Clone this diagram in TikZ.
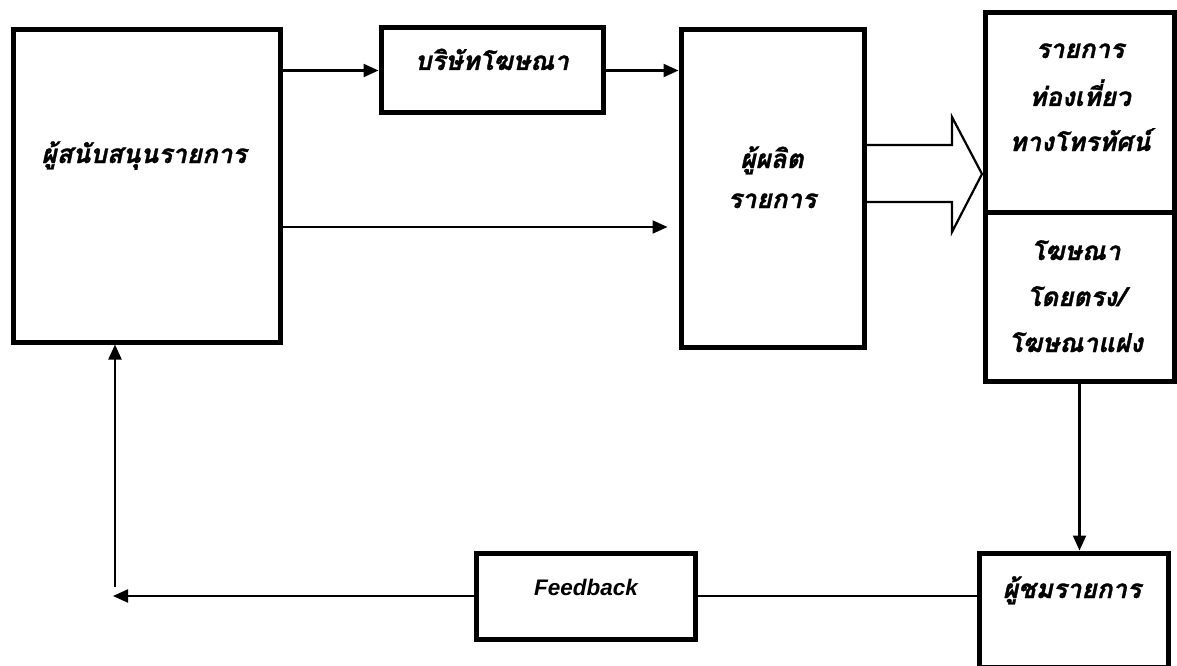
\documentclass[tikz,border=0pt]{standalone}
\usepackage{fontspec}
\setmainfont{Liberation Sans}
\newfontfamily\thaifont[Script=Thai, BoldItalicFeatures={FakeBold=1.2}]{Loma}
\usetikzlibrary{arrows.meta}
\begin{document}
\begin{tikzpicture}[x=1pt,y=-1pt,
  box/.style={draw, line width=5pt, inner sep=0pt},
  th/.style={font=\thaifont\bfseries\itshape\fontsize{26}{30}\selectfont, anchor=base, inner sep=0pt},
  en/.style={font=\bfseries\itshape\fontsize{22.5}{26}\selectfont, inner sep=0pt},
  conn/.style={line width=2.2pt, -{Triangle[length=15pt,width=13pt]}},
  plain/.style={line width=2.2pt},
  hollow/.style={line width=2.2pt, line join=miter}
]
\useasboundingbox (0,0) rectangle (1177,666);
\clip (0,0) rectangle (1177,666);
% boxes
\node[box, minimum width=267pt, minimum height=312pt] (A) at (147,186) {};
\node[box, minimum width=222pt, minimum height=85pt] (B) at (492,70.5) {};
\node[box, minimum width=183pt, minimum height=317pt] (C) at (772.5,188.5) {};
\node[box, minimum width=189pt, minimum height=199.5pt] (D) at (1079.5,112.25) {};
\node[box, minimum width=189pt, minimum height=169pt] (E) at (1079.5,296.5) {};
\node[box, minimum width=219pt, minimum height=86pt] (Fb) at (585.5,596) {};
\node[box, minimum width=189pt, minimum height=114pt] (F) at (1073.5,610) {};
% texts
\node[th] (tA) at (144,163) {ผู้สนับสนุนรายการ};
\node[th] (tB) at (492,70) {บริษัทโฆษณา};
\node[th] (tC1) at (772,168) {ผู้ผลิต};
\node[th] (tC2) at (772,208) {รายการ};
\node[th] (tD1) at (1080,58) {รายการ};
\node[th] (tD2) at (1080,106) {ท่องเที่ยว};
\node[th] (tD3) at (1080,151) {ทางโทรทัศน์};
\node[th] (tE1) at (1076,260) {โฆษณา};
\node[th] (tE2) at (1076,306) {โดยตรง/};
\node[th] (tE3) at (1076,352) {โฆษณาแฝง};
\node[th] (tF) at (1072,598) {ผู้ชมรายการ};
\node[en] (tFb) at (586,587) {Feedback};
% connectors
\coordinate (y227) at (0,227);
\coordinate (p) at (113,596);
\coordinate (q) at (115,587);
\draw[conn] (A.east |- B.west) -- (B.west);
\draw[conn] (B.east) -- (B.east -| C.west);
\draw[conn, shorten >=11pt] (A.east |- y227) -- (C.west |- y227);
\draw[conn] (E.south) -- (E.south |- F.north);
\draw[plain] (F.west |- Fb.east) -- (Fb.east);
\draw[conn] (Fb.west) -- (p);
\draw[conn] (q) -- (q |- A.south);
% hollow block arrow
\draw[hollow] (C.east |- 0,145) -- (952,145) -- (952,117) -- (982,174) -- (952,232) -- (952,202) -- (C.east |- 0,202);
\end{tikzpicture}
\end{document}
